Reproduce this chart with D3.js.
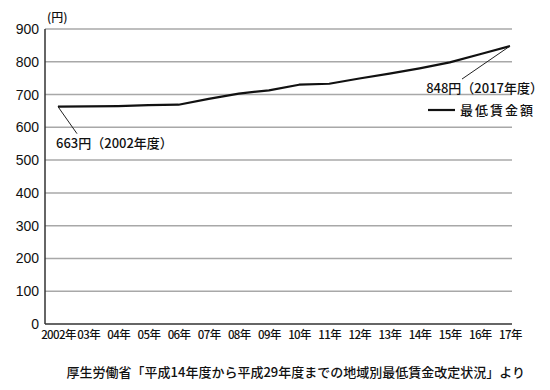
<!DOCTYPE html>
<html lang="ja">
<head>
  <meta charset="utf-8">
  <script src="https://d3js.org/d3.v7.min.js"></script>
  <style>
    body { margin: 0; padding: 0; background: #fff; }
    svg { display: block; font-family: "Liberation Sans", Arial, sans-serif; }
    .jp { font-family: "Noto Sans CJK JP", sans-serif; font-weight: 500; }
  </style>
</head>
<body>
  <svg id="chart" width="550" height="390"></svg>
  <script>
    // 最低賃金額（全国加重平均）
    const years = ["2002年", "03年", "04年", "05年", "06年", "07年", "08年", "09年",
                   "10年", "11年", "12年", "13年", "14年", "15年", "16年", "17年"];
    const wages = [663, 664, 665, 668, 669, 687, 703, 713, 730, 733, 749, 764, 780, 798, 823, 848];
    const yTicks = [0, 100, 200, 300, 400, 500, 600, 700, 800, 900];

    const svg = d3.select("#chart");
    const plotLeft = 45, plotRight = 512, plotTop = 29, plotBottom = 324;

    const x = d3.scalePoint().domain(years).range([58, 510]);
    const y = d3.scaleLinear().domain([0, 900]).range([plotBottom, plotTop]);

    // grid lines
    svg.append("g")
      .selectAll("line")
      .data(yTicks.filter(d => d > 0))
      .enter().append("line")
      .attr("x1", plotLeft).attr("x2", plotRight)
      .attr("y1", d => y(d)).attr("y2", d => y(d))
      .attr("stroke", "#a8a8a8")
      .attr("stroke-width", 1.5);

    // y axis
    const yAxis = svg.append("g")
      .attr("transform", `translate(${plotLeft},0)`)
      .call(d3.axisLeft(y).tickValues(yTicks).tickSize(0).tickPadding(6));
    yAxis.select(".domain").remove();
    yAxis.selectAll("text")
      .attr("font-size", 14)
      .attr("fill", "#111")
      .attr("font-family", "'Liberation Sans', Arial, sans-serif");

    svg.append("line")
      .attr("x1", plotLeft).attr("x2", plotLeft)
      .attr("y1", plotTop).attr("y2", plotBottom)
      .attr("stroke", "#333").attr("stroke-width", 1.5);
    svg.append("line")
      .attr("x1", plotLeft).attr("x2", plotRight)
      .attr("y1", plotBottom).attr("y2", plotBottom)
      .attr("stroke", "#333").attr("stroke-width", 1.5);

    // x axis labels
    const xAxis = svg.append("g")
      .attr("transform", `translate(0,${plotBottom})`)
      .call(d3.axisBottom(x).tickSize(0).tickPadding(7));
    xAxis.select(".domain").remove();
    xAxis.selectAll("text")
      .attr("class", "jp")
      .attr("font-size", 11.5)
      .attr("fill", "#111")
      .attr("letter-spacing", -0.6);

    // unit
    svg.append("text")
      .attr("class", "jp")
      .attr("x", plotLeft + 2).attr("y", 22)
      .attr("font-size", 12)
      .attr("fill", "#111")
      .text("(円)");

    // data line
    const line = d3.line()
      .x((d, i) => x(years[i]))
      .y(d => y(d));
    svg.append("path")
      .datum(wages)
      .attr("d", line)
      .attr("fill", "none")
      .attr("stroke", "#111")
      .attr("stroke-width", 2.2)
      .attr("stroke-linejoin", "round");

    // annotations
    const first = wages[0], last = wages[wages.length - 1];
    svg.append("line")
      .attr("x1", x(years[0])).attr("y1", y(first))
      .attr("x2", x(years[0]) + 19).attr("y2", y(first) + 27)
      .attr("stroke", "#222").attr("stroke-width", 1);
    svg.append("text")
      .attr("class", "jp")
      .attr("x", 56).attr("y", y(first) + 41)
      .attr("font-size", 13)
      .attr("fill", "#111")
      .text(`${first}円（2002年度）`);

    svg.append("line")
      .attr("x1", x(years[years.length - 1])).attr("y1", y(last))
      .attr("x2", x(years[years.length - 1]) - 48).attr("y2", y(last) + 33)
      .attr("stroke", "#222").attr("stroke-width", 1);
    svg.append("text")
      .attr("class", "jp")
      .attr("x", 543).attr("y", y(last) + 47)
      .attr("text-anchor", "end")
      .attr("font-size", 13)
      .attr("fill", "#111")
      .text(`${last}円（2017年度）`);

    // legend
    svg.append("line")
      .attr("x1", 428).attr("x2", 455)
      .attr("y1", 110).attr("y2", 110)
      .attr("stroke", "#111").attr("stroke-width", 2.2);
    svg.append("text")
      .attr("class", "jp")
      .attr("x", 460).attr("y", 115)
      .attr("font-size", 13)
      .attr("letter-spacing", 2)
      .attr("fill", "#111")
      .text("最低賃金額");

    // source
    svg.append("text")
      .attr("class", "jp")
      .attr("x", 525).attr("y", 377)
      .attr("text-anchor", "end")
      .attr("font-size", 13)
      .attr("fill", "#111")
      .text("厚生労働省「平成14年度から平成29年度までの地域別最低賃金改定状況」より");
  </script>
</body>
</html>
